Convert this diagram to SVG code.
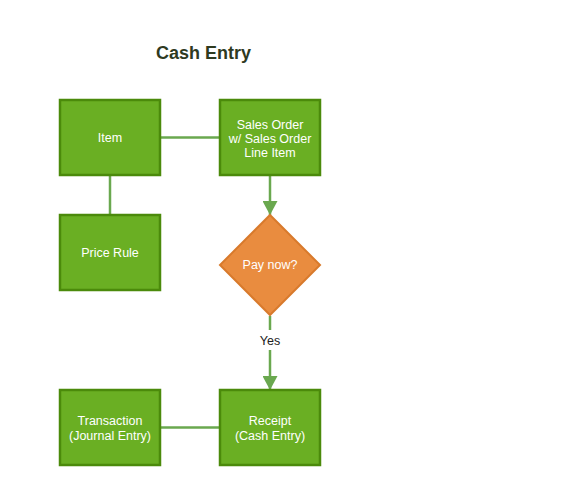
<svg xmlns="http://www.w3.org/2000/svg" width="566" height="493" viewBox="0 0 566 493">
<style>
.box{fill:#6aaf23;stroke:#4b8a0b;stroke-width:2.5}
.dia{fill:#e98c3f;stroke:#d87a2c;stroke-width:2}
.lbl{font-family:"Liberation Sans",Arial,sans-serif;font-size:12.5px;fill:#ffffff;text-anchor:middle}
.ln{stroke:#6aa84f;stroke-width:2.5;fill:none}
.title{font-family:"Liberation Sans",Arial,sans-serif;font-size:18px;font-weight:bold;fill:#2e3a1f;text-anchor:middle}
.yes{font-family:"Liberation Sans",Arial,sans-serif;font-size:12.5px;fill:#222;text-anchor:middle}
</style>
<defs>
<marker id="arr" markerUnits="userSpaceOnUse" markerWidth="16" markerHeight="15" refX="15" refY="8" orient="auto" viewBox="0 0 15 16">
<path d="M0,0 L15,8 L0,16 Z" fill="#6aa84f"/>
</marker>
</defs>
<rect width="566" height="493" fill="#ffffff"/>
<text class="title" x="203.5" y="59">Cash Entry</text>
<g id="connectors">
<line class="ln" x1="160" y1="137.5" x2="220" y2="137.5"/>
<line class="ln" x1="110" y1="175" x2="110" y2="215"/>
<line class="ln" x1="160" y1="427.5" x2="220" y2="427.5"/>
<path class="ln" d="M270,176 L270,215" marker-end="url(#arr)"/>
<line class="ln" x1="270" y1="316" x2="270" y2="330"/>
<path class="ln" d="M270,350 L270,390" marker-end="url(#arr)"/>
<text class="yes" x="270" y="345">Yes</text>
</g>
<g id="item">
<rect class="box" x="60" y="100" width="100" height="75"/>
<text class="lbl" x="110" y="142">Item</text>
</g>
<g id="sales-order">
<rect class="box" x="220" y="100" width="100" height="75"/>
<text class="lbl" x="270" y="129">Sales Order</text>
<text class="lbl" x="270" y="143">w/ Sales Order</text>
<text class="lbl" x="270" y="157">Line Item</text>
</g>
<g id="price-rule">
<rect class="box" x="60" y="215" width="100" height="75"/>
<text class="lbl" x="110" y="257">Price Rule</text>
</g>
<g id="pay-now">
<polygon class="dia" points="270,215 320,265 270,315 220,265"/>
<text class="lbl" x="270" y="269">Pay now?</text>
</g>
<g id="transaction">
<rect class="box" x="60" y="390" width="100" height="75"/>
<text class="lbl" x="110" y="425">Transaction</text>
<text class="lbl" x="110" y="440">(Journal Entry)</text>
</g>
<g id="receipt">
<rect class="box" x="220" y="390" width="100" height="75"/>
<text class="lbl" x="270" y="425">Receipt</text>
<text class="lbl" x="270" y="440">(Cash Entry)</text>
</g>
</svg>
